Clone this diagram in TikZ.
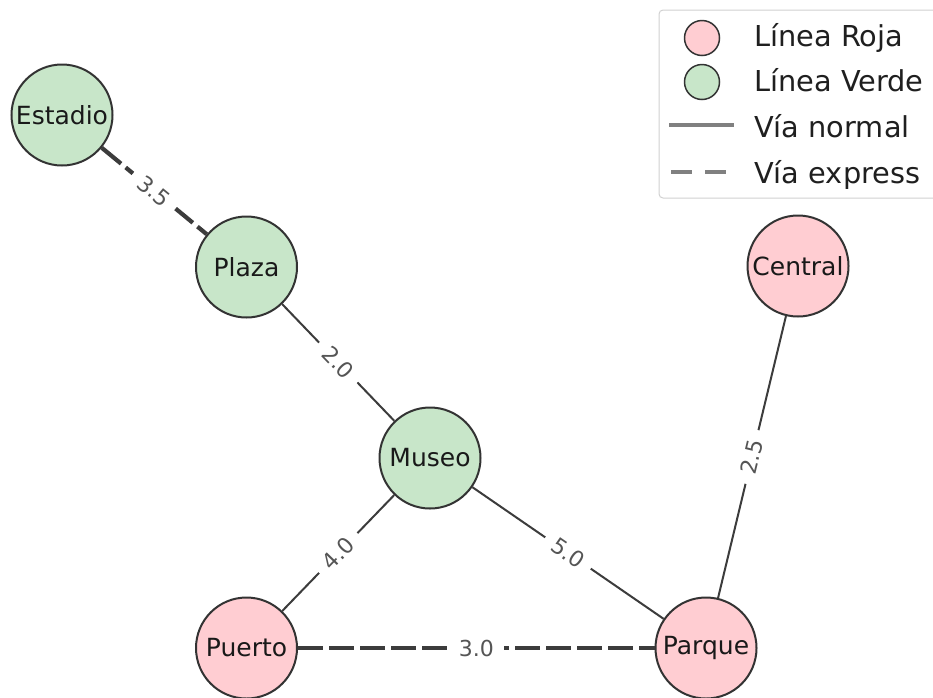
\documentclass[tikz,border=0pt]{standalone}
\usepackage{fontspec}
\setmainfont{DejaVu Sans}
\definecolor{roja}{HTML}{FFCDD2}
\definecolor{verde}{HTML}{C8E6C9}
\definecolor{edgec}{HTML}{3C3C3C}
\definecolor{borderc}{HTML}{333333}
\definecolor{labelc}{HTML}{555555}
\definecolor{legline}{HTML}{808080}
\begin{document}
\begin{tikzpicture}[x=1pt,y=-1pt,
  station/.style={circle, draw=borderc, line width=2pt, minimum size=101pt, inner sep=0pt,
    font=\fontsize{25}{30}\selectfont, text=black!90},
  rojanode/.style={station, fill=roja},
  verdenode/.style={station, fill=verde},
  normalvia/.style={draw=edgec, line width=2pt},
  expressvia/.style={draw=edgec, line width=4.2pt, dash pattern=on 25pt off 6pt},
  elabel/.style={midway, sloped, fill=white, inner xsep=10pt, inner ysep=3pt, rounded corners=3pt,
    text=labelc, font=\fontsize{22}{26}\selectfont},
  legmark/.style={circle, draw=borderc, line width=1.5pt, minimum size=35pt, inner sep=0pt},
  legtext/.style={anchor=base west, inner sep=0pt, text=black!88, font=\fontsize{28.8}{32}\selectfont}
]
\useasboundingbox (0,0) rectangle (933,697);

% nodes
\node[verdenode] (estadio) at (62,115) {Estadio};
\node[verdenode] (plaza) at (246.5,267) {Plaza};
\node[verdenode] (museo) at (430,458) {Museo};
\node[rojanode] (central) at (798,266) {Central};
\node[rojanode] (puerto) at (246.5,648) {Puerto};
\node[rojanode] (parque) at (706,648) {Parque};

% edges
\draw[expressvia] (estadio) -- node[elabel] {3.5} (plaza);
\draw[normalvia] (plaza) -- node[elabel] {2.0} (museo);
\draw[normalvia] (museo) -- node[elabel] {4.0} (puerto);
\draw[normalvia] (museo) -- node[elabel] {5.0} (parque);
\draw[normalvia] (parque) -- node[elabel] {2.5} (central);
\draw[expressvia] (puerto) -- node[elabel] {3.0} (parque);

% legend
\draw[draw=black!18, line width=1pt, fill=white, fill opacity=0.8, rounded corners=4pt]
  (659,10) rectangle (945,198);
\node[legmark, fill=roja] (mroja) at (702,38) {};
\node[legmark, fill=verde] (mverde) at (702,82) {};
\coordinate (ln1) at (669,125);
\coordinate (ln2) at (734,125);
\draw[draw=legline, line width=4pt] (ln1) -- (ln2);
\coordinate (le1) at (671,172);
\coordinate (le2) at (726,172);
\draw[draw=legline, line width=4pt, dash pattern=on 21pt off 13pt] (le1) -- (le2);
\node[legtext] (troja) at (754,46) {Línea Roja};
\node[legtext] (tverde) at (754,91) {Línea Verde};
\node[legtext] (tnormal) at (754,137) {Vía normal};
\node[legtext] (texpress) at (754,183) {Vía express};
\end{tikzpicture}
\end{document}
